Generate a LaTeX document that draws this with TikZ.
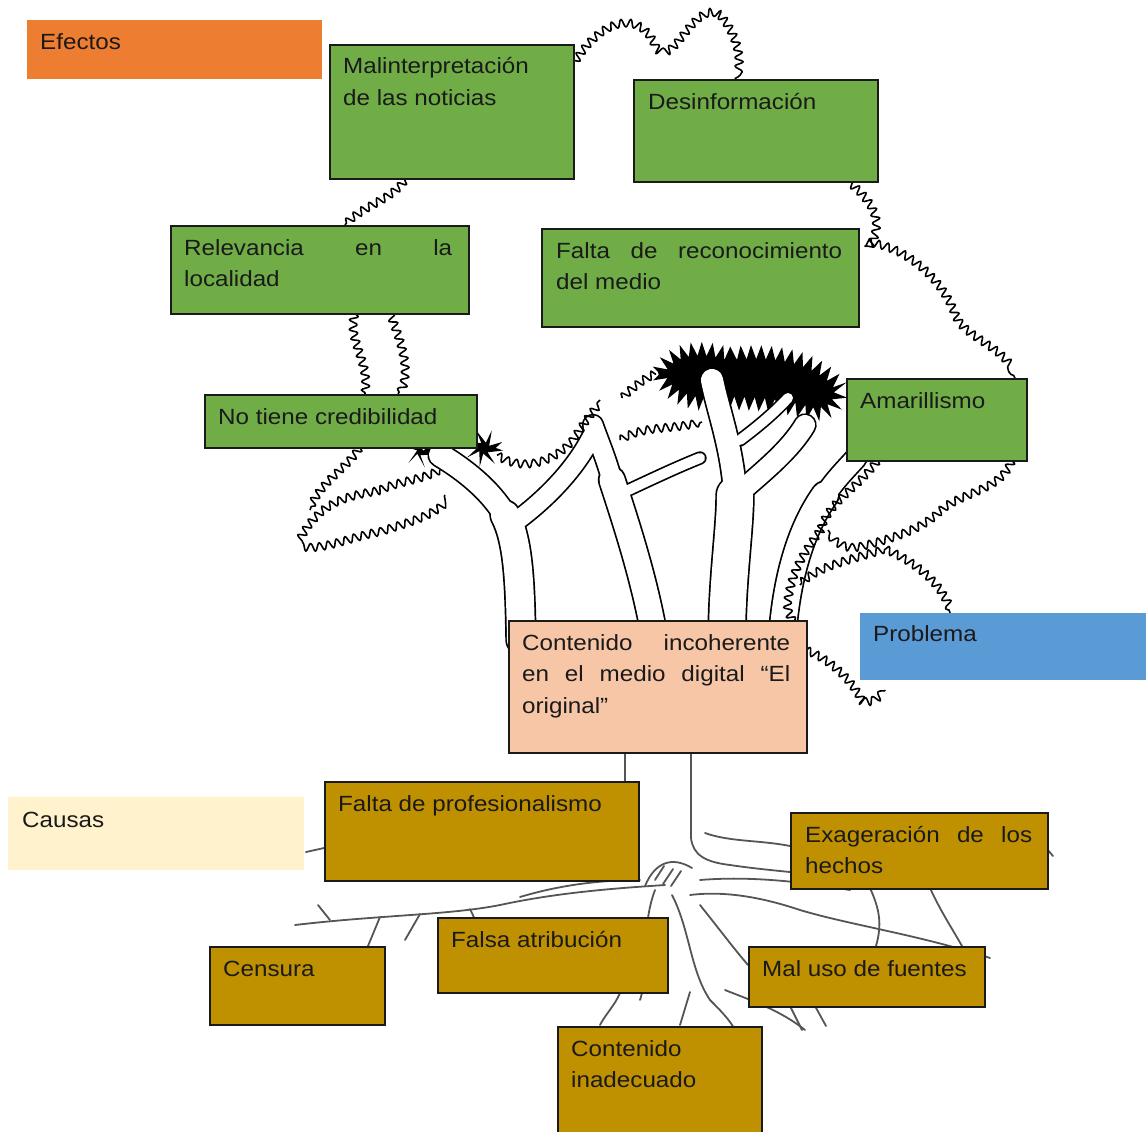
\documentclass[tikz,border=0pt]{standalone}
\usepackage{fontspec}
\setmainfont{Liberation Sans}[FakeStretch=1.1]
\usetikzlibrary{decorations.pathmorphing}
\definecolor{cOrange}{HTML}{ED7D31}
\definecolor{cGreen}{HTML}{70AD47}
\definecolor{cSalmon}{HTML}{F7C6A7}
\definecolor{cBlue}{HTML}{5B9BD5}
\definecolor{cCream}{HTML}{FFF2CC}
\definecolor{cGold}{HTML}{BF9000}
\definecolor{boxline}{HTML}{1A1A1A}
\definecolor{txtc}{HTML}{1A1A1A}
\definecolor{rootc}{HTML}{555555}
\newcommand\treebranches{%
  \draw[bw=28] (521,640) .. controls (520,580) and (518,540) .. (505,515);
  \draw[bw=22] (505,515) .. controls (490,490) and (465,470) .. (440,455);
  \draw[bw=18] (515,522) .. controls (545,500) and (575,470) .. (592,436);
  \draw[bw=25] (655,640) .. controls (645,580) and (625,520) .. (612,480);
  \draw[bw=19] (612,480) .. controls (605,455) and (598,440) .. (593,425);
  \draw[bw=10] (622,493) .. controls (650,480) and (675,468) .. (700,458);
  \draw[bw=36] (727,640) .. controls (727,580) and (735,530) .. (735,495);
  \draw[bw=22] (735,495) .. controls (733,450) and (718,410) .. (712,380);
  \draw[bw=20] (740,492) .. controls (765,470) and (790,450) .. (805,425);
  \draw[bw=10] (740,440) .. controls (760,425) and (775,412) .. (788,398);
  \draw[bw=26] (782,640) .. controls (786,580) and (800,530) .. (825,495);
  \draw[bw=20] (825,495) .. controls (835,480) and (845,470) .. (856,458);
}
\begin{document}
\begin{tikzpicture}[x=1pt,y=-1pt,
  box/.style={draw=boxline, line width=1.6pt, anchor=north west, inner sep=0pt},
  flat/.style={draw=none, anchor=north west, inner sep=0pt},
  lbl/.style={anchor=base west, inner sep=0pt, text=txtc, font=\fontsize{22}{31.5}\selectfont},
  leafy/.style={draw=black, line width=1.6pt, line join=round, decorate,
    decoration={snake, amplitude=4pt, segment length=9pt}},
  blob/.style={fill=black, decorate, decoration={zigzag, amplitude=7pt, segment length=10pt}},
  root/.style={draw=rootc, line width=1.8pt, line cap=round}]
\useasboundingbox (0,0) rectangle (1146,1132);

% ---------- roots ----------
\draw[root] (625,752) -- (625,782);
\draw[root] (691,752) -- (691,838) .. controls (693,855) and (705,862) .. (730,865) .. controls (750,868) and (770,870) .. (790,872);
\draw[root] (705,833) .. controls (730,842) and (760,840) .. (790,846);
\draw[root] (665,885) .. controls (620,888) and (560,892) .. (500,905) .. controls (450,915) and (380,915) .. (295,925);
\draw[root] (640,880) .. controls (600,880) and (560,885) .. (520,897);
\draw[root] (420,914) -- (405,940);
\draw[root] (470,909) -- (482,934);
\draw[root] (380,917) -- (368,946);
\draw[root] (330,920) -- (318,905);
\draw[root] (690,895) .. controls (730,890) and (770,900) .. (800,910) .. controls (850,925) and (920,935) .. (990,958);
\draw[root] (700,880) .. controls (760,875) and (820,885) .. (850,890);
\draw[root] (655,890) .. controls (640,930) and (650,970) .. (640,1000);
\draw[root] (672,895) .. controls (690,930) and (690,970) .. (710,1000) .. controls (720,1010) and (730,1020) .. (735,1030);
\draw[root] (700,905) .. controls (720,930) and (735,950) .. (748,965);
\draw[root] (725,990) .. controls (750,1000) and (780,1010) .. (805,1030);
\draw[root] (690,992) -- (680,1025);
\draw[root] (620,993) .. controls (615,1005) and (605,1015) .. (600,1025);
\draw[root] (790,1006) -- (802,1030);
\draw[root] (815,1006) -- (826,1026);
\draw[root] (870,888) .. controls (880,910) and (882,925) .. (876,946);
\draw[root] (930,888) .. controls (940,910) and (950,925) .. (962,946);
\draw[root] (1047,849) -- (1053,856);
\draw[root] (324,848) -- (306,852);
\draw[root] (645,886) .. controls (655,862) and (672,856) .. (692,868);
\draw[root] (655,880) -- (664,866);
\draw[root] (663,884) -- (673,869);
\draw[root] (671,886) -- (681,871);

% ---------- foliage ----------
\fill[blob] (420,452) circle[radius=9];
\fill[blob] (484,448) circle[radius=12];
\fill[blob] (658,372) .. controls (670,348) and (700,344) .. (728,354) .. controls (770,348) and (818,356) .. (840,385) .. controls (844,404) and (830,416) .. (812,414) .. controls (780,404) and (742,402) .. (702,404) .. controls (682,402) and (662,392) .. (658,372) -- cycle;

\begin{scope}[bw/.style={draw=black, line width=#1pt+3.4pt, line cap=round}]
  \treebranches
\end{scope}
\begin{scope}[bw/.style={draw=white, line width=#1pt, line cap=round}]
  \treebranches
\end{scope}

\draw[leafy] (405,180) .. controls (390,200) and (360,205) .. (345,225);
\draw[leafy] (355,313) .. controls (348,340) and (372,360) .. (365,394);
\draw[leafy] (390,313) .. controls (400,340) and (412,370) .. (398,394);
\draw[leafy] (573,65) .. controls (600,20) and (640,10) .. (655,50) .. controls (670,70) and (690,5) .. (715,15) .. controls (732,30) and (742,60) .. (735,79);
\draw[leafy] (848,181) .. controls (870,200) and (885,220) .. (866,248) .. controls (900,250) and (940,280) .. (955,320) .. controls (962,342) and (1000,350) .. (1015,378);
\draw[leafy] (1012,460) .. controls (1000,490) and (960,490) .. (940,510) .. controls (920,530) and (880,540) .. (860,545) .. controls (845,548) and (835,540) .. (828,530);
\draw[leafy] (878,460) .. controls (855,490) and (830,500) .. (822,528) .. controls (805,550) and (792,570) .. (788,600) .. controls (786,615) and (795,625) .. (806,628);
\draw[leafy] (885,549) .. controls (850,560) and (820,565) .. (800,585);
\draw[leafy] (806,650) .. controls (830,660) and (850,680) .. (860,700) .. controls (870,705) and (880,700) .. (885,690);
\draw[leafy] (885,549) .. controls (910,560) and (940,580) .. (950,613);
\draw[leafy] (440,470) .. controls (420,480) and (400,480) .. (380,490) .. controls (350,495) and (320,500) .. (300,540) .. controls (320,545) and (350,530) .. (380,525) .. controls (410,515) and (430,510) .. (445,495);
\draw[leafy] (360,447) .. controls (345,470) and (320,480) .. (310,510);
\draw[leafy] (497,455) .. controls (520,470) and (550,462) .. (570,440) .. controls (580,425) and (590,410) .. (600,400);
\draw[leafy] (620,440) .. controls (645,425) and (675,432) .. (702,422);
\draw[leafy] (622,398) .. controls (632,388) and (643,380) .. (656,374);

% ---------- boxes ----------
\node[flat, fill=cOrange, minimum width=295pt, minimum height=59pt] (efB) at (27,20) {};
\node[lbl] (efT) at (40,49) {Efectos};

\node[box, fill=cGreen, minimum width=244pt, minimum height=134pt] (malB) at (329,44) {};
\node[lbl] (malT) at (343,74) {\parbox[t]{220pt}{Malinterpretación\\de las noticias}};

\node[box, fill=cGreen, minimum width=244pt, minimum height=102pt] (desB) at (633,79) {};
\node[lbl] (desT) at (648,109) {Desinformación};

\node[box, fill=cGreen, minimum width=298pt, minimum height=88pt] (relB) at (170,225) {};
\node[lbl] (relT) at (184,255) {\parbox[t]{268pt}{Relevancia\hfill en\hfill la\\localidad}};

\node[box, fill=cGreen, minimum width=317pt, minimum height=98pt] (falB) at (541,228) {};
\node[lbl] (falT) at (556,258) {\parbox[t]{286pt}{Falta\hfill de\hfill reconocimiento\\del medio}};

\node[box, fill=cGreen, minimum width=272pt, minimum height=53pt] (credB) at (204,394) {};
\node[lbl] (credT) at (218,424) {No tiene credibilidad};

\node[box, fill=cGreen, minimum width=180pt, minimum height=82pt] (amaB) at (846,378) {};
\node[lbl] (amaT) at (860,408) {Amarillismo};

\node[box, fill=cSalmon, minimum width=298pt, minimum height=132pt] (probB) at (508,620) {};
\node[lbl] (probT) at (522,650) {\parbox[t]{268pt}{Contenido\hfill incoherente\\en\hfill el\hfill medio\hfill digital\hfill “El\\original”}};

\node[flat, fill=cBlue, minimum width=290pt, minimum height=67pt] (pbB) at (860,613) {};
\node[lbl] (pbT) at (873,641) {Problema};

\node[flat, fill=cCream, minimum width=296pt, minimum height=73pt] (caB) at (8,797) {};
\node[lbl] (caT) at (22,827) {Causas};

\node[box, fill=cGold, minimum width=314pt, minimum height=99pt] (profB) at (324,781) {};
\node[lbl] (profT) at (338,811) {Falta de profesionalismo};

\node[box, fill=cGold, minimum width=257pt, minimum height=76pt] (exaB) at (790,812) {};
\node[lbl] (exaT) at (805,842) {\parbox[t]{227pt}{Exageración\hfill de\hfill los\\hechos}};

\node[box, fill=cGold, minimum width=175pt, minimum height=78pt] (cenB) at (209,946) {};
\node[lbl] (cenT) at (223,976) {Censura};

\node[box, fill=cGold, minimum width=230pt, minimum height=75pt] (fatB) at (437,917) {};
\node[lbl] (fatT) at (451,947) {Falsa atribución};

\node[box, fill=cGold, minimum width=236pt, minimum height=60pt] (fueB) at (748,946) {};
\node[lbl] (fueT) at (762,976) {Mal uso de fuentes};

\node[box, fill=cGold, minimum width=204pt, minimum height=112pt] (inaB) at (557,1026) {};
\node[lbl] (inaT) at (571,1056) {\parbox[t]{180pt}{Contenido\\inadecuado}};
\end{tikzpicture}
\end{document}
